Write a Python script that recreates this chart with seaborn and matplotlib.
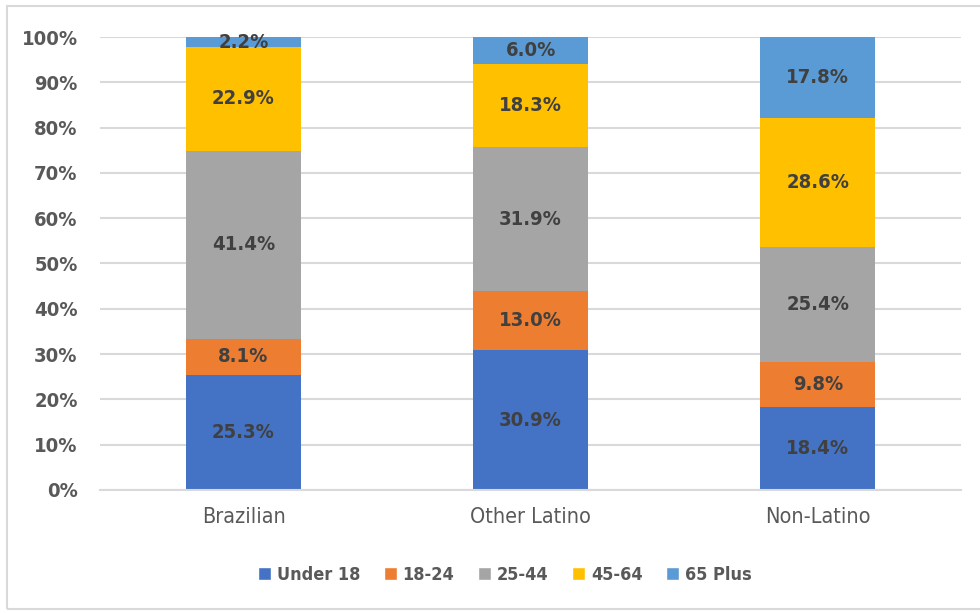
import numpy as np
import pandas as pd
import matplotlib.pyplot as plt
import seaborn as sns
from matplotlib.patches import Patch, Rectangle

sns.set_theme(style='white')
plt.rcParams['font.family'] = ['Liberation Sans Narrow', 'DejaVu Sans Condensed', 'DejaVu Sans']
plt.rcParams['font.stretch'] = 'condensed'

groups = ['Brazilian', 'Other Latino', 'Non-Latino']
ages = ['Under 18', '18-24', '25-44', '45-64', '65 Plus']
under18 = [25.3, 30.9, 18.4]
age18_24 = [8.1, 13.0, 9.8]
age25_44 = [41.4, 31.9, 25.4]
age45_64 = [22.9, 18.3, 28.6]
plus65 = [2.2, 6.0, 17.8]
colors = ['#4472C4', '#ED7D31', '#A5A5A5', '#FFC000', '#5B9BD5']

vals = np.array([under18, age18_24, age25_44, age45_64, plus65])
shares = vals / vals.sum(axis=0)  # 100% stacked
tops = shares.cumsum(axis=0)

fig = plt.figure(figsize=(9.8, 6.13), dpi=100)
ax = fig.add_axes([0.102, 0.2007, 0.879, 0.7389])

# draw cumulative heights from the top layer down so each layer covers the rest
for i in reversed(range(len(ages))):
    df = pd.DataFrame({'group': groups, 'top': tops[i]})
    sns.barplot(data=df, x='group', y='top', color=colors[i], width=0.4,
                saturation=1, ax=ax, zorder=2, linewidth=0)

for i in range(len(ages)):
    for j in range(len(groups)):
        mid = tops[i, j] - shares[i, j] / 2
        ax.text(j, mid, f'{vals[i, j]:.1f}%', ha='center', va='center',
                fontsize=14.5, fontweight='bold', color='#404040', zorder=3)

ax.set_ylim(0, 1)
ax.set_xlim(-0.5, 2.5)
ax.set_yticks(np.arange(0, 1.01, 0.1))
ax.set_yticklabels([f'{int(t)}%' for t in range(0, 101, 10)])
ax.yaxis.grid(True, color='#D9D9D9', lw=1.5, zorder=0)
ax.set_xlabel('')
ax.set_ylabel('')
for s in ['left', 'right', 'top']:
    ax.spines[s].set_visible(False)
ax.spines['bottom'].set_color('#D9D9D9')
ax.spines['bottom'].set_linewidth(1.5)
ax.tick_params(axis='y', length=0, pad=16, labelsize=14.5, labelcolor='#595959')
ax.tick_params(axis='x', length=0, pad=12, labelsize=15.5, labelcolor='#595959')
for lab in ax.get_yticklabels():
    lab.set_fontweight('bold')

handles = [Patch(facecolor=c, label=a) for c, a in zip(colors, ages)]
leg = fig.legend(handles=handles, loc='center', bbox_to_anchor=(0.515, 0.062),
                 ncol=5, frameon=False, fontsize=13, handlelength=0.75,
                 handleheight=0.75, handletextpad=0.3, columnspacing=1.3)
for t in leg.get_texts():
    t.set_fontweight('bold')
    t.set_color('#595959')

fig.patches.append(Rectangle((7 / 980, 4 / 613), 1.0, 603 / 613,
                             transform=fig.transFigure, fill=False,
                             edgecolor='#D9D9D9', lw=1.5))

fig.savefig('out.png', dpi=100)
